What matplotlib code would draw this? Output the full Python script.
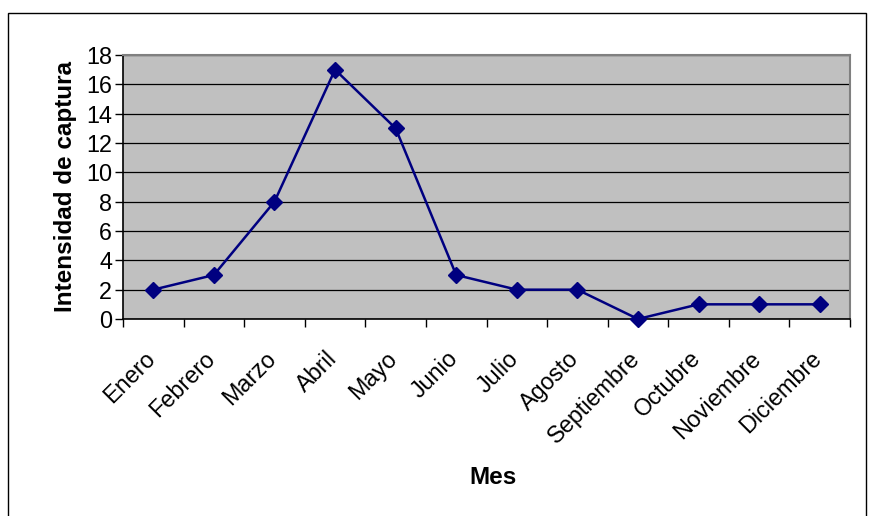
import matplotlib.pyplot as plt
import numpy as np
from matplotlib.patches import Rectangle
from matplotlib.transforms import ScaledTranslation

plt.rcParams['font.family'] = ['Liberation Sans', 'DejaVu Sans']

meses = ['Enero', 'Febrero', 'Marzo', 'Abril', 'Mayo', 'Junio', 'Julio',
         'Agosto', 'Septiembre', 'Octubre', 'Noviembre', 'Diciembre']
intensidad = [2, 3, 8, 17, 13, 3, 2, 2, 0, 1, 1, 1]
yticks = [0, 2, 4, 6, 8, 10, 12, 14, 16, 18]

W, H = 874, 516
fig = plt.figure(figsize=(W / 100, H / 100), dpi=100)

# marco exterior del grafico
fig.patches.append(Rectangle((8 / W, -0.05), (866 - 8) / W, (H - 13) / H + 0.05,
                             transform=fig.transFigure, fill=False,
                             edgecolor='black', linewidth=1.0))

x0, x1, y0, y1 = 123, 850, 55, 319
ax = fig.add_axes([x0 / W, 1 - y1 / H, (x1 - x0) / W, (y1 - y0) / H])
ax.set_facecolor('#C0C0C0')

x = np.arange(len(meses)) + 0.5
ax.plot(x, intensidad, color='#000080', linewidth=1.8, marker='D',
        markersize=8.5, markerfacecolor='#000080', markeredgecolor='#000080',
        clip_on=False, zorder=5)

ax.set_xlim(0, len(meses))
ax.set_ylim(0, 18)
ax.set_yticks(yticks)
ax.set_yticklabels([str(v) for v in yticks], fontsize=16.8)
ax.yaxis.grid(True, color='black', linewidth=0.9)
ax.set_axisbelow(True)

ax.set_xticks(np.arange(len(meses) + 1))
ax.set_xticklabels([])
ax.set_xticks(x, minor=True)
ax.set_xticklabels(meses, minor=True, rotation=45, ha='right',
                   rotation_mode='anchor', fontsize=16.8)
ax.tick_params(axis='x', which='minor', length=0, pad=10)
ax.tick_params(axis='x', which='major', length=6, width=1, color='black')
ax.tick_params(axis='y', length=6, width=1, color='black', pad=2)

# bajar un poco las etiquetas de los meses
desplazamiento = ScaledTranslation(-10 / 100, -14 / 100, fig.dpi_scale_trans)
for lab in ax.get_xticklabels(minor=True):
    lab.set_transform(lab.get_transform() + desplazamiento)

for side in ['top', 'right']:
    ax.spines[side].set_color('#808080')
    ax.spines[side].set_linewidth(1.5)
for side in ['left', 'bottom']:
    ax.spines[side].set_color('black')
    ax.spines[side].set_linewidth(1.2)

ax.set_ylabel('Intensidad de captura', fontsize=17.5, fontweight='bold', labelpad=6)
fig.text(493 / W, 1 - 478 / H, 'Mes', fontsize=17.5, fontweight='bold',
         ha='center', va='center')

fig.savefig('out.png', dpi=100)
